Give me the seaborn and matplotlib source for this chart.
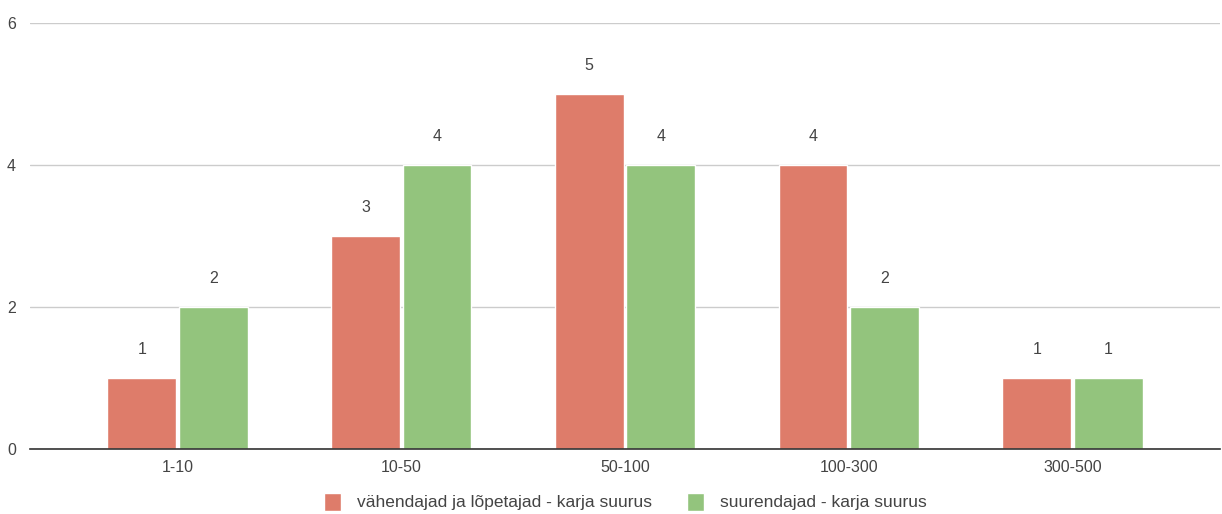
import matplotlib
matplotlib.use('Agg')
import matplotlib.pyplot as plt
import seaborn as sns
import pandas as pd

# andmed
kategooriad = ['1-10', '10-50', '50-100', '100-300', '300-500']
vahendajad = [1, 3, 5, 4, 1]
suurendajad = [2, 4, 4, 2, 1]
seeria_nimed = ['vähendajad ja lõpetajad - karja suurus', 'suurendajad - karja suurus']
varvid = ['#DE7C6A', '#93C47D']

df = pd.DataFrame({
    'kategooria': kategooriad * 2,
    'vaartus': vahendajad + suurendajad,
    'seeria': [seeria_nimed[0]] * 5 + [seeria_nimed[1]] * 5,
})

sns.set_style('white')
plt.rcParams['font.family'] = ['Liberation Sans', 'DejaVu Sans']

fig = plt.figure(figsize=(12.22, 5.14), dpi=100)
ax = fig.add_axes([0.0245, 0.1265, 0.974, 0.8285])

sns.barplot(data=df, x='kategooria', y='vaartus', hue='seeria',
            palette=varvid, width=0.64, gap=0.04, ax=ax, saturation=1)

for cont in ax.containers:
    ax.bar_label(cont, fmt='%d', padding=15, fontsize=11.5, color='#444444')

ax.set_ylim(0, 6)
ax.set_xlim(-0.66, 4.66)
ax.set_yticks([0, 2, 4, 6])
ax.yaxis.grid(True, color='#cccccc', linewidth=1)
ax.set_axisbelow(True)
for s in ['top', 'right', 'left']:
    ax.spines[s].set_visible(False)
ax.spines['bottom'].set_color('#333333')
ax.spines['bottom'].set_linewidth(1.2)
ax.tick_params(axis='both', length=0, labelsize=11.5, colors='#444444')
ax.tick_params(axis='x', pad=8)
ax.tick_params(axis='y', pad=10)
ax.set_xlabel('')
ax.set_ylabel('')

ax.legend(loc='upper center', bbox_to_anchor=(0.5, -0.066), ncol=2, frameon=False,
          fontsize=12.5, handlelength=1.0, handleheight=1.2, handletextpad=0.9,
          columnspacing=2.0, labelcolor='#444444')

fig.savefig('out.png', dpi=100)
